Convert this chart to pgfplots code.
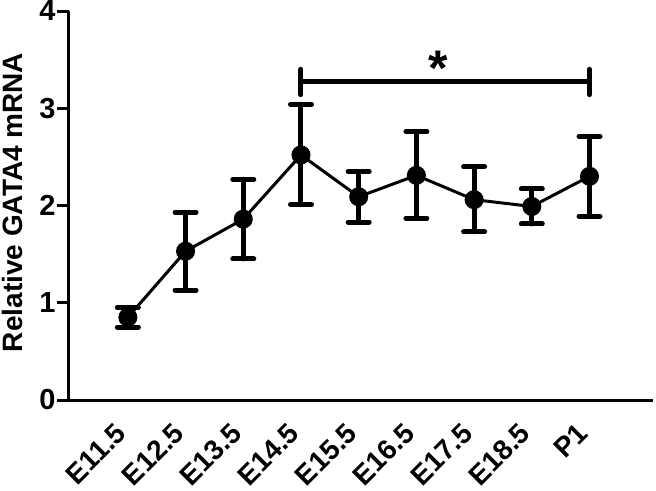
\documentclass[border=0pt]{standalone}
\usepackage{pgfplots}
\pgfplotsset{compat=1.18}
\usepackage{fontspec}
\setmainfont{Liberation Sans}

\pgfplotstableread{
x  y     ep    em
0  0.85  0.10  0.10
1  1.53  0.40  0.40
2  1.86  0.41  0.41
3  2.52  0.52  0.51
4  2.09  0.26  0.26
5  2.31  0.45  0.44
6  2.06  0.34  0.33
7  1.99  0.18  0.18
8  2.30  0.41  0.41
}\gata

\begin{document}
\begin{tikzpicture}
\useasboundingbox (-69pt,-90pt) rectangle (587pt,400pt);
\begin{axis}[
    scale only axis,
    width=584pt, height=389pt,
    xmin=-1.02, xmax=9.1,
    ymin=0, ymax=4,
    axis lines*=left,
    axis line style={line width=3pt},
    ytick={0,1,2,3,4},
    xtick={0,...,8},
    xticklabels={E11.5,E12.5,E13.5,E14.5,E15.5,E16.5,E17.5,E18.5,P1},
    tick align=outside,
    major tick length=12pt,
    ytick style={line width=3pt, black},
    xtick style={draw=none},
    /pgf/number format/assume math mode=true,
    yticklabel style={font=\bfseries\fontsize{29}{32}\selectfont, xshift=2pt},
    xticklabel style={font=\bfseries\fontsize{28}{32}\selectfont, rotate=45, anchor=east, xshift=-13pt, yshift=-7pt},
    ylabel={\bfseries Relative GATA4 mRNA},
    ylabel style={font=\fontsize{28}{32}\selectfont, at={(axis description cs:-0.096,0.508)}, anchor=center, rotate=0},
    clip=false,
]
\addplot[black, line width=3pt, mark=*, mark size=8pt,
    error bars/.cd, y dir=both, y explicit,
    error bar style={line width=5pt, line cap=round},
    error mark options={rotate=90, mark size=10.5pt, line width=5pt, line cap=round}]
    table[x=x, y=y, y error plus=ep, y error minus=em] {\gata};
\addplot[black, line width=5pt, line cap=round] coordinates {(3,3.27) (8,3.27)};
\addplot[black, line width=5pt, line cap=round] coordinates {(3,3.14) (3,3.40)};
\addplot[black, line width=5pt, line cap=round] coordinates {(8,3.14) (8,3.40)};
\node[anchor=north, inner sep=0pt, font=\bfseries\fontsize{50}{52}\selectfont] at (axis cs:5.37,3.59) {*};
\end{axis}
\end{tikzpicture}
\end{document}
